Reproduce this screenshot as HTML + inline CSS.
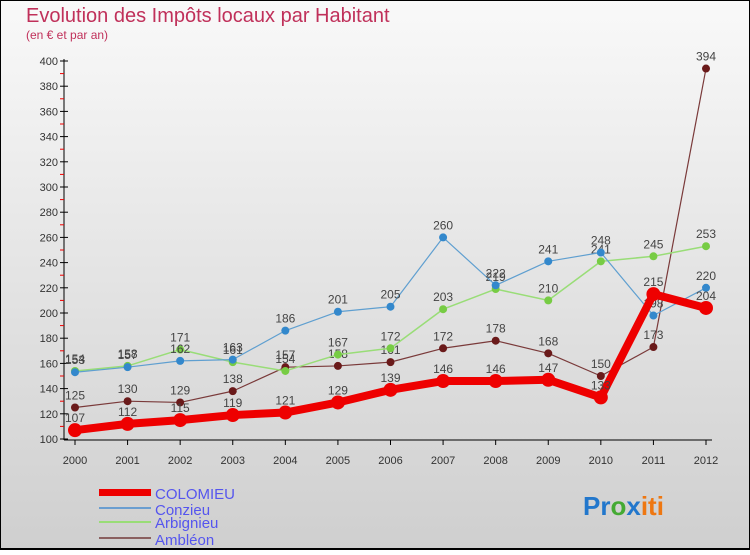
<!DOCTYPE html>
<html><head><meta charset="utf-8"><style>
body{margin:0}
#c{width:750px;height:550px;position:relative;font-family:"Liberation Sans",sans-serif;}
</style></head><body>
<div id="c">
<svg width="750" height="550" id="svg">
<defs><linearGradient id="bg" x1="0" y1="0" x2="0" y2="1"><stop offset="0" stop-color="#f9f9f9"/><stop offset="1" stop-color="#cfcfcf"/></linearGradient></defs>
<rect x="0.5" y="0.5" width="749" height="548" fill="url(#bg)" stroke="#000"/>
<line x1="0" y1="549" x2="750" y2="549" stroke="#000" stroke-width="2"/>
<text x="26" y="22" font-size="20" fill="#c0305a">Evolution des Impôts locaux par Habitant</text>
<text x="26" y="39" font-size="12" fill="#c0305a">(en € et par an)</text>
<g id="axes"></g><g id="series"></g>
<g font-size="15" fill="#5555ee">
<rect x="99" y="489" width="52" height="7" fill="#ee0000"/>
<text x="155" y="499">COLOMIEU</text>
<line x1="99" y1="508" x2="151" y2="508" stroke="#6a9ed0" stroke-width="2"/>
<text x="155" y="515">Conzieu</text>
<line x1="99" y1="522" x2="151" y2="522" stroke="#99dd77" stroke-width="2"/>
<text x="155" y="528">Arbignieu</text>
<line x1="99" y1="538" x2="151" y2="538" stroke="#8a6060" stroke-width="2"/>
<text x="155" y="545">Ambléon</text>
</g>
<text x="583" y="515" font-size="26" font-weight="bold"><tspan fill="#2277cc">Pr</tspan><tspan fill="#44aa33">o</tspan><tspan fill="#2277cc">x</tspan><tspan fill="#ee7711">iti</tspan></text>
</svg></div>
<script>
const years=["2000","2001","2002","2003","2004","2005","2006","2007","2008","2009","2010","2011","2012"];
const colomieu=[107,112,115,119,121,129,139,146,146,147,133,215,204];
const conzieu=[153,157,162,163,186,201,205,260,222,241,248,198,220];
const arbignieu=[154,158,171,161,154,167,172,203,219,210,241,245,253];
const ambleon=[125,130,129,138,157,158,161,172,178,168,150,173,394];
const yTicks=[100,120,140,160,180,200,220,240,260,280,300,320,340,360,380,400];
const NS="http://www.w3.org/2000/svg";
const xs=i=>75+i*(706-75)/(years.length-1);
const ys=v=>439-(v-100)*(439-61)/300;
function mk(t,a,p){const e=document.createElementNS(NS,t);for(const k in a)e.setAttribute(k,a[k]);p.appendChild(e);return e;}
const ax=document.getElementById('axes');
let l=mk('line',{x1:64,y1:ys(400)-2,x2:64,y2:ys(100)+1,stroke:'#000'},ax);


l=mk('line',{x1:64,y1:ys(100)+1,x2:712,y2:ys(100)+1,stroke:'#000'},ax);


yTicks.forEach(v=>{
 mk('line',{x1:60,y1:ys(v),x2:68,y2:ys(v),stroke:'#000'},ax);
 if(v<400) mk('line',{x1:60,y1:ys(v+10),x2:64,y2:ys(v+10),stroke:'#e00'},ax);
 const t=mk('text',{x:58,y:ys(v)+4,'text-anchor':'end','font-size':11,fill:'#333'},ax);t.textContent=v;
 
 
});
years.forEach((y,i)=>{
 mk('line',{x1:xs(i),y1:ys(100)+1,x2:xs(i),y2:ys(100)+6,stroke:'#000'},ax);
 const t=mk('text',{x:xs(i),y:464,'text-anchor':'middle','font-size':11,fill:'#333'},ax);t.textContent=y;
 
 
});
const sg=document.getElementById('series');
function series(data,color,w,r,name,dot){
 const g=mk('g',{},sg);
 
 
 mk('polyline',{points:data.map((v,i)=>xs(i)+','+ys(v)).join(' '),fill:'none',stroke:color,'stroke-width':w,'stroke-linejoin':'round'},g);
 data.forEach((v,i)=>{
  const c=mk('circle',{cx:xs(i),cy:ys(v),r:r,fill:dot},g);
  
  
  const t=mk('text',{x:xs(i),y:ys(v)-8,'text-anchor':'middle','font-size':12,fill:'#444'},g);t.textContent=v;
  
  
 });
}
series(ambleon,'#7a3a3a',1.2,4,'ambleon','#6a1a1a');
series(arbignieu,'#99dd77',1.5,4,'arbignieu','#77cc44');
series(conzieu,'#5f9fd0',1.2,4,'conzieu','#3388cc');
series(colomieu,'#ee0000',8,7,'colomieu','#ee0000');
</script>
</body></html>
